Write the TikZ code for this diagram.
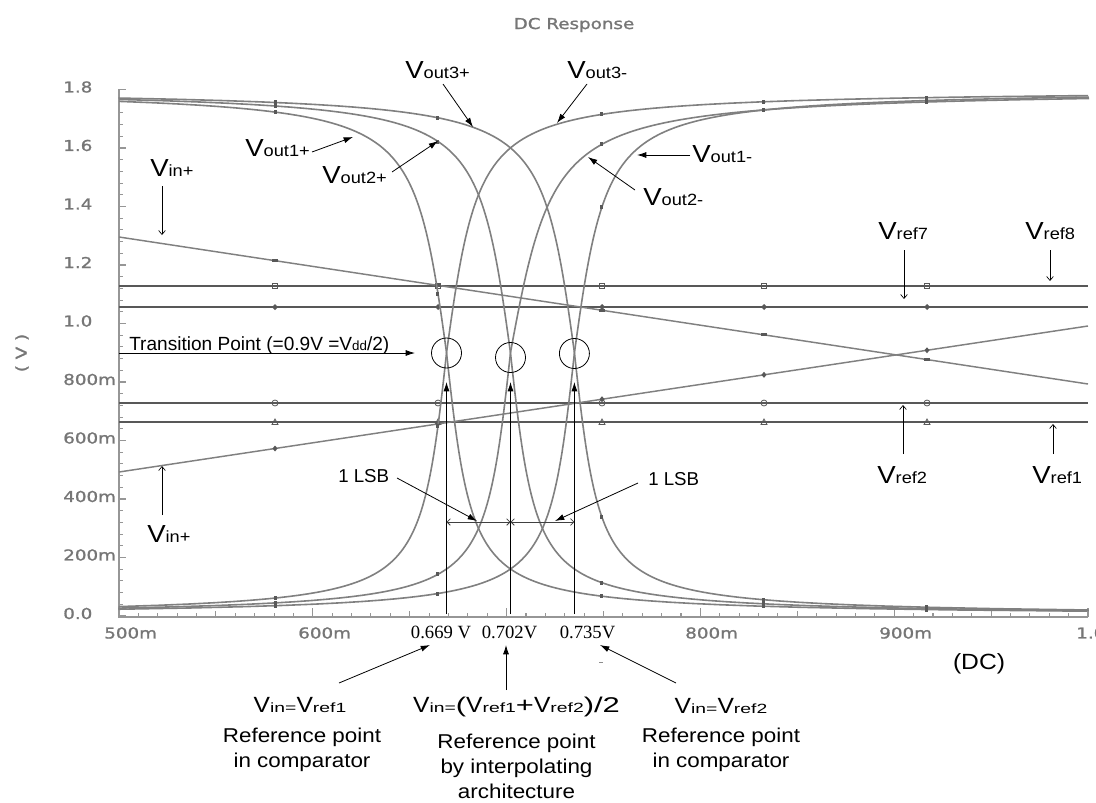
\documentclass[tikz,border=0pt]{standalone}
\usepackage{fontspec}
\setmainfont{Liberation Sans}
\newfontfamily\labfont[FakeStretch=1.12]{Liberation Sans}
\newfontfamily\widefont[FakeStretch=1.45]{Liberation Sans}
\newfontfamily\plotfont[FakeStretch=1.22,FakeBold=1.2]{DejaVu Sans}
\newfontfamily\serifnum{Liberation Serif}
\usetikzlibrary{arrows.meta}

\definecolor{tracegray}{RGB}{128,128,128}
\definecolor{refgray}{RGB}{88,88,88}
\definecolor{axisgray}{RGB}{150,150,150}
\definecolor{labelgray}{RGB}{118,118,118}

% signal names: large V with smaller suffix on the same baseline
\newcommand\Vt[1]{{\labfont\fontsize{18.5}{20}\selectfont V}{\labfont\fontsize{12.2}{14}\selectfont #1}}
\newcommand\Vb[1]{{\labfont\fontsize{16.5}{18}\selectfont V}{\widefont\fontsize{10}{12}\selectfont #1}}
\newcommand\bigsym[1]{{\widefont\fontsize{16}{18}\selectfont #1}}

% one comparator output: centre (V), upper width, lower width, +1 falling / -1 rising
\newcommand\vtrace[4]{%
  \pgfmathsetmacro\wlo{#4>0 ? #2 : #3}%
  \pgfmathsetmacro\whi{#4>0 ? #3 : #2}%
  \pgfmathsetmacro\tlo{atan((0.5-#1)/\wlo)}%
  \pgfmathsetmacro\thi{atan((1-#1)/\whi)}%
  \draw[curve] plot[variable=\t, domain=\tlo:\thi, samples=400]
    ({119+(#1+(\wlo+(\whi-\wlo)*(\t>0))*tan(\t)-0.5)*1938},{352.75+(#4)*2.925*\t});
  \foreach \mv in {0.5805,0.6646,0.7492,0.8328,0.9169}{%
    \pgfmathsetmacro\mt{atan((\mv-#1)/((\mv<#1) ? \wlo : \whi))}%
    \fill[refgray] ({119+(\mv-0.5)*1938},{352.75+(#4)*2.925*\mt}) ++(-1.5,-2) rectangle ++(3,4);
  }%
}

\tikzset{
  curve/.style={tracegray, line width=1.2pt},
  refline/.style={refgray, line width=1.1pt},
  inputline/.style={tracegray, line width=1.1pt},
  axisline/.style={axisgray, line width=0.8pt},
  mk/.style={refgray, line width=0.6pt},
  ticklab/.style={font=\plotfont\fontsize{11.25}{12}\selectfont, text=labelgray, inner sep=0},
  lab/.style={inner sep=0, anchor=base west},
  blab/.style={inner sep=0, anchor=base},
  txt/.style={font=\labfont\fontsize{15}{17}\selectfont},
  note/.style={draw=black, line width=0.6pt, -{Latex[length=7pt,width=4.5pt]}},
  pointer/.style={draw=black, line width=0.5pt, -{Straight Barb[length=3pt,width=5pt]}},
  dim/.style={draw=black!75, line width=0.6pt, {Straight Barb[length=2.5pt,width=5pt]}-{Straight Barb[length=2.5pt,width=5pt]}},
  ring/.style={circle, draw=black, line width=0.6pt, minimum size=22.5pt, inner sep=0},
  numlab/.style={font=\serifnum\fontsize{14}{16}\selectfont, inner sep=0},
}

\begin{document}
\begin{tikzpicture}[x=0.75pt,y=-0.75pt]
\useasboundingbox (0,0) rectangle (1096,803);
\fill[white] (0,0) rectangle (1096,803);

% ---------- frame, ticks and scale ----------
\node[ticklab] (title) at (574,25) {DC Response};
\node[ticklab, rotate=90] (ylabel) at (22,353) {( V )};

\draw[axisline] (119,89) -- (119,617) -- (1088,617);
\foreach \k in {0,...,45}{%
  \pgfmathsetmacro\ty{616-\k*11.7}%
  \pgfmathsetmacro\tlen{mod(\k,5)==0 ? 7 : 4}%
  \draw[axisline] (119,\ty) -- ++(\tlen,0);
}
\foreach \k in {0,...,50}{%
  \pgfmathsetmacro\tx{119+\k*19.38}%
  \pgfmathsetmacro\tlen{mod(\k,10)==0 ? 9 : (mod(\k,5)==0 ? 6 : 4)}%
  \draw[axisline] (\tx,617) -- ++(0,-\tlen);
}
\foreach \v/\s [count=\i] in {1.8/1.8,1.6/1.6,1.4/1.4,1.2/1.2,1.0/1.0,0.8/800m,0.6/600m,0.4/400m,0.2/200m,0/0.0}{%
  \node[ticklab, anchor=west] (ytick\i) at (63,{613.5-292.5*\v}) {\s};
}
\node[ticklab, anchor=west] (x500) at (104,633) {500m};
\node[ticklab, anchor=west] (x600) at (298,633) {600m};
\node[ticklab, anchor=west] (x800) at (685,633) {800m};
\node[ticklab, anchor=west] (x900) at (879,633) {900m};
\node[ticklab, anchor=west] (x1000) at (1076,633) {1.0};

% ---------- reference levels ----------
\draw[refline] (119,286) -- (1088,286);
\draw[refline] (119,307) -- (1088,307);
\draw[refline] (119,403) -- (1088,403);
\draw[refline] (119,422) -- (1088,422);
\foreach \mx in {275,438,602,764,927}{%
  \draw[mk] (\mx,286) ++(-2.5,-2.5) rectangle ++(5,5);
  \fill[refgray] (\mx,307) ++(0,-3) -- ++(3,3) -- ++(-3,3) -- ++(-3,-3) -- cycle;
  \draw[mk] (\mx,403) circle[radius=3];
  \draw[mk] (\mx,422) ++(0,-3) -- ++(3,5.5) -- ++(-6,0) -- cycle;
}

% ---------- differential inputs ----------
\draw[inputline] (119,472) -- (1088,326);
\draw[inputline] (119,237) -- (1088,384);
\foreach \mx in {275,438,602,764,927}{%
  \fill[refgray] (\mx,{472-0.15067*(\mx-119)}) ++(0,-3) -- ++(2.5,3) -- ++(-2.5,3) -- ++(-2.5,-3) -- cycle;
  \fill[refgray] (\mx,{237+0.1517*(\mx-119)}) ++(-3,-1.5) rectangle ++(6,3);
}

% ---------- comparator outputs ----------
\vtrace{0.669}{0.012}{0.0095}{1}
\vtrace{0.702}{0.012}{0.0095}{1}
\vtrace{0.735}{0.012}{0.0095}{1}
\vtrace{0.669}{0.012}{0.0095}{-1}
\vtrace{0.702}{0.016}{0.0095}{-1}
\vtrace{0.735}{0.012}{0.0095}{-1}

% ---------- transition points ----------
\node[ring] (tp1) at (446.5,353) {};
\node[ring] (tp2) at (510.5,357.5) {};
\node[ring] (tp3) at (574.4,353.5) {};
\coordinate (b1) at (446.5,614); \coordinate (t1) at (446.5,382);
\coordinate (b2) at (510.5,614); \coordinate (t2) at (510.5,382);
\coordinate (b3) at (574.4,614); \coordinate (t3) at (574.4,382);
\draw[note] (b1) -- (t1);
\draw[note] (b2) -- (t2);
\draw[note] (b3) -- (t3);

\node[lab] (trans) at (129,350) {\fontsize{14.3}{16}\selectfont Transition Point (=0.9V =V{\fontsize{10}{11}\selectfont dd}/2)};
\coordinate (trans-a) at (119,353); \coordinate (trans-b) at (415,353);
\draw[note] (trans-a) -- (trans-b);

% ---------- LSB spacing ----------
\coordinate (d1) at (446.5,522); \coordinate (d2) at (510.5,522); \coordinate (d3) at (574.4,522);
\draw[dim] (d1) -- (d2);
\draw[dim] (d2) -- (d3);
\node[lab] (lsbL) at (338,482) {\fontsize{14}{16}\selectfont 1 LSB};
\node[lab] (lsbR) at (648,485) {\fontsize{14}{16}\selectfont 1 LSB};
\coordinate (lsbL-a) at (397,478); \coordinate (lsbL-b) at (477,521);
\coordinate (lsbR-a) at (638,483); \coordinate (lsbR-b) at (555,521);
\draw[note] (lsbL-a) -- (lsbL-b);
\draw[note] (lsbR-a) -- (lsbR-b);

% ---------- trace names ----------
\node[lab] (vo3p) at (405,78) {\Vt{out3+}};
\node[lab] (vo3m) at (567,78) {\Vt{out3-}};
\node[lab] (vo1m) at (692,162) {\Vt{out1-}};
\node[lab] (vo2m) at (643,205) {\Vt{out2-}};
\node[lab] (vo1p) at (245,156) {\Vt{out1+}};
\node[lab] (vo2p) at (322,183) {\Vt{out2+}};
\coordinate (vo3p-a) at (443,84);  \coordinate (vo3p-b) at (473,127);
\coordinate (vo3m-a) at (587,84);  \coordinate (vo3m-b) at (557,123);
\coordinate (vo1m-a) at (690,155); \coordinate (vo1m-b) at (637,155);
\coordinate (vo2m-a) at (635,190); \coordinate (vo2m-b) at (588,157);
\coordinate (vo1p-a) at (312,152); \coordinate (vo1p-b) at (353,137);
\coordinate (vo2p-a) at (392,172); \coordinate (vo2p-b) at (438,141);
\draw[note] (vo3p-a) -- (vo3p-b);
\draw[note] (vo3m-a) -- (vo3m-b);
\draw[note] (vo1m-a) -- (vo1m-b);
\draw[note] (vo2m-a) -- (vo2m-b);
\draw[note] (vo1p-a) -- (vo1p-b);
\draw[note] (vo2p-a) -- (vo2p-b);

\node[lab] (vinA) at (150,176) {\Vt{in+}};
\node[lab] (vinB) at (147,542) {\Vt{in+}};
\node[lab] (vr7) at (878,239) {\Vt{ref7}};
\node[lab] (vr8) at (1025,239) {\Vt{ref8}};
\node[lab] (vr2) at (877,483) {\Vt{ref2}};
\node[lab] (vr1) at (1032,483) {\Vt{ref1}};
\coordinate (vinA-a) at (162,186);  \coordinate (vinA-b) at (162,235);
\coordinate (vinB-a) at (162,515);  \coordinate (vinB-b) at (162,466);
\coordinate (vr7-a) at (904,250);   \coordinate (vr7-b) at (904,299);
\coordinate (vr8-a) at (1050,250);  \coordinate (vr8-b) at (1050,281);
\coordinate (vr2-a) at (903,454);   \coordinate (vr2-b) at (903,405);
\coordinate (vr1-a) at (1053,454);  \coordinate (vr1-b) at (1053,424);
\draw[pointer] (vinA-a) -- (vinA-b);
\draw[pointer] (vinB-a) -- (vinB-b);
\draw[pointer] (vr7-a) -- (vr7-b);
\draw[pointer] (vr8-a) -- (vr8-b);
\draw[pointer] (vr2-a) -- (vr2-b);
\draw[pointer] (vr1-a) -- (vr1-b);

% ---------- input values at the transitions ----------
\node[numlab] (n669) at (441,632) {0.669 V};
\node[numlab] (n702) at (509.5,632) {0.702V};
\node[numlab] (n735) at (587.5,632) {0.735V};
\draw[black!45, line width=0.6pt] (599,662) -- (603,662);

\node[blab] (dc) at (979,669) {\labfont\fontsize{16.5}{18}\selectfont (DC)};

% ---------- explanations below the axis ----------
\node[blab] (bl1) at (300,712) {\Vb{in=}\Vb{ref1}};
\node[blab, txt] (bl2) at (302,742) {Reference point};
\node[blab, txt] (bl3) at (302,767) {in comparator};

\node[blab] (bm1) at (516.5,712) {\Vb{in=}\bigsym{(}\Vb{ref1}\bigsym{+}\Vb{ref2}\bigsym{)/2}};
\node[blab, txt] (bm2) at (516.5,748) {Reference point};
\node[blab, txt] (bm3) at (516.5,773) {by interpolating};
\node[blab, txt] (bm4) at (516.5,798) {architecture};

\node[blab] (br1) at (721,713) {\Vb{in=}\Vb{ref2}};
\node[blab, txt] (br2) at (721,742) {Reference point};
\node[blab, txt] (br3) at (721,767) {in comparator};

\coordinate (bl-a) at (339,683); \coordinate (bl-b) at (430,645);
\coordinate (bm-a) at (506,690); \coordinate (bm-b) at (506,645);
\coordinate (br-a) at (676,683); \coordinate (br-b) at (600,645);
\draw[note] (bl-a) -- (bl-b);
\draw[note] (bm-a) -- (bm-b);
\draw[note] (br-a) -- (br-b);
\end{tikzpicture}
\end{document}
